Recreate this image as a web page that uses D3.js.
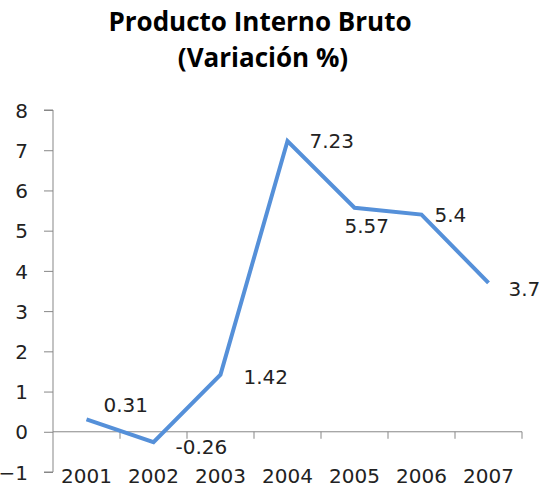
<!DOCTYPE html>
<html>
<head>
<meta charset="utf-8">
<script src="https://cdn.jsdelivr.net/npm/d3@7"></script>
<style>
  body { margin: 0; background: #fff; }
  svg { display: block; }
</style>
</head>
<body>
<svg id="chart" width="543" height="487"></svg>
<script>
// datos
const years = ["2001", "2002", "2003", "2004", "2005", "2006", "2007"];
const pib = [0.31, -0.26, 1.42, 7.23, 5.57, 5.4, 3.7];
const labels = ["0.31", "-0.26", "1.42", "7.23", "5.57", "5.4", "3.7"];
const yTicks = [-1, 0, 1, 2, 3, 4, 5, 6, 7, 8];

// desplazamiento de cada etiqueta respecto a su punto (como Excel)
const labelOffset = [[17, -7], [22, 12], [23, 9], [22, 7], [-10, 25], [13, 7], [20, 13]];

const svg = d3.select("#chart");
const plotLeft = 53, plotRight = 522, plotTop = 110, plotBottom = 472;

const x = d3.scaleBand().domain(years).range([plotLeft, plotRight]).padding(0);
const y = d3.scaleLinear().domain([-1, 8]).range([plotBottom, plotTop]);
const axisColor = "#878787";
const numFont = "DejaVu Sans";

// titulo
const title = svg.append("text")
  .attr("text-anchor", "middle")
  .style("font-family", "Open Sans")
  .style("font-weight", "bold")
  .style("font-size", "26px")
  .attr("fill", "#000");
title.append("tspan").attr("x", 260).attr("y", 31).text("Producto Interno Bruto");
title.append("tspan").attr("x", 263).attr("y", 67).text("(Variación %)");

// eje y
const yAxis = d3.axisLeft(y).tickValues(yTicks).tickSize(9).tickPadding(16)
  .tickFormat(d3.format("d"));
const gy = svg.append("g").attr("transform", `translate(${plotLeft},0)`).call(yAxis);
gy.select(".domain").attr("stroke", axisColor).attr("d", `M-9,${plotTop}H0V${plotBottom}H-9`);
gy.selectAll(".tick line").attr("stroke", axisColor);
gy.selectAll(".tick text")
  .attr("fill", "#222")
  .style("font-family", numFont)
  .style("font-size", "20px")
  .attr("dy", "0.36em");

// linea del cero con marcas entre categorias
svg.append("line")
  .attr("x1", plotLeft).attr("x2", plotRight)
  .attr("y1", y(0)).attr("y2", y(0))
  .attr("stroke", axisColor);
svg.selectAll(".x-tick")
  .data(years)
  .join("line")
  .attr("class", "x-tick")
  .attr("x1", (d) => x(d) + x.bandwidth()).attr("x2", (d) => x(d) + x.bandwidth())
  .attr("y1", y(0)).attr("y2", y(0) + 7)
  .attr("stroke", axisColor);

// etiquetas de años abajo
svg.selectAll(".x-label")
  .data(years)
  .join("text")
  .attr("class", "x-label")
  .attr("x", (d) => x(d) + x.bandwidth() / 2)
  .attr("y", 483)
  .attr("text-anchor", "middle")
  .style("font-family", numFont)
  .style("font-size", "20px")
  .attr("fill", "#222")
  .text((d) => d);

// serie
const line = d3.line()
  .x((d, i) => x(years[i]) + x.bandwidth() / 2)
  .y((d) => y(d));

svg.append("path")
  .datum(pib)
  .attr("d", line)
  .attr("fill", "none")
  .attr("stroke", "#5590d9")
  .attr("stroke-width", 4)
  .attr("stroke-linejoin", "miter");

svg.selectAll(".data-label")
  .data(pib)
  .join("text")
  .attr("class", "data-label")
  .attr("x", (d, i) => x(years[i]) + x.bandwidth() / 2 + labelOffset[i][0])
  .attr("y", (d, i) => y(d) + labelOffset[i][1])
  .style("font-family", numFont)
  .style("font-size", "20px")
  .attr("fill", "#222")
  .text((d, i) => labels[i]);
</script>
</body>
</html>
